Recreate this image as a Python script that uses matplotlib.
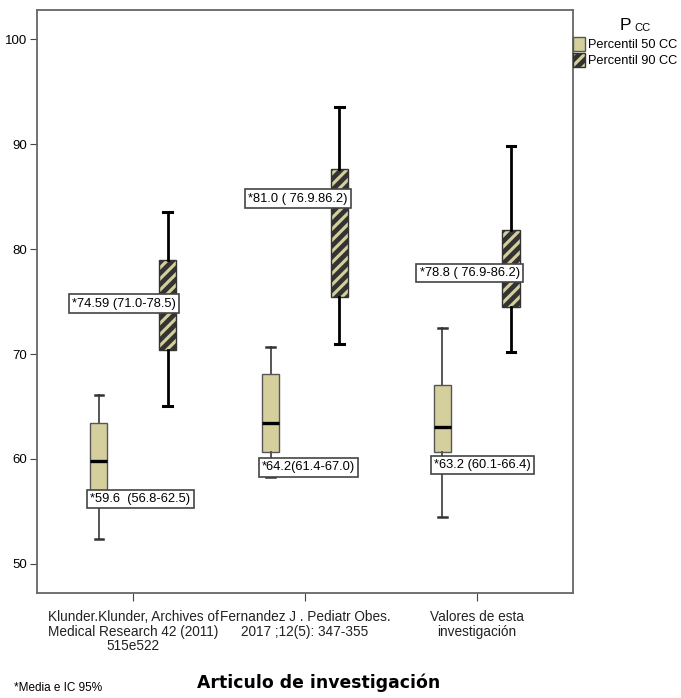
import matplotlib
matplotlib.use("Agg")
import matplotlib.pyplot as plt
from matplotlib.patches import Patch

plt.rcParams['font.family'] = ['Liberation Sans', 'DejaVu Sans']
plt.rcParams['hatch.linewidth'] = 3.4
plt.rcParams['hatch.color'] = 'black'

articulos = ['Klunder.Klunder, Archives of\nMedical Research 42 (2011)\n515e522',
             'Fernandez J . Pediatr Obes.\n2017 ;12(5): 347-355',
             'Valores de esta\ninvestigación']

# percentil 50 CC: [whislo, q1, med, q3, whishi]
p50_min = [52.4, 58.3, 54.5]
p50_q1 = [56.5, 60.7, 60.7]
p50_med = [59.8, 63.4, 63.0]
p50_q3 = [63.4, 68.1, 67.0]
p50_max = [66.1, 70.7, 72.5]

# percentil 90 CC
p90_min = [65.0, 71.0, 70.2]
p90_q1 = [70.4, 75.4, 74.5]
p90_med = [74.6, 81.5, 78.8]
p90_q3 = [79.0, 87.6, 81.8]
p90_max = [83.5, 93.5, 89.8]

# etiquetas media e IC 95%
p50_txt = ['*59.6  (56.8-62.5)', '*64.2(61.4-67.0)', '*63.2 (60.1-66.4)']
p50_txt_y = [56.2, 59.2, 59.4]
p90_txt = ['*74.59 (71.0-78.5)', '*81.0 ( 76.9.86.2)', '*78.8 ( 76.9-86.2)']
p90_txt_y = [74.8, 84.8, 77.7]

color_p50 = '#d4cf9c'
offset = 0.2
ancho = 0.1


def stats(mn, q1, med, q3, mx):
    out = []
    for i in range(len(mn)):
        out.append({'whislo': mn[i], 'q1': q1[i], 'med': med[i],
                    'q3': q3[i], 'whishi': mx[i], 'fliers': []})
    return out


fig = plt.figure(figsize=(6.81, 6.98), dpi=100)
ax = fig.add_axes([0.0543, 0.150, 0.787, 0.836])

pos = list(range(len(articulos)))
pos50 = [p - offset for p in pos]
pos90 = [p + offset for p in pos]

ax.bxp(stats(p50_min, p50_q1, p50_med, p50_q3, p50_max), positions=pos50,
       widths=ancho, patch_artist=True, showfliers=False,
       boxprops=dict(facecolor=color_p50, edgecolor='#555555', linewidth=1),
       medianprops=dict(color='black', linewidth=2.4),
       whiskerprops=dict(color='#555555', linewidth=1.4),
       capprops=dict(color='#333333', linewidth=1.8), capwidths=0.05)

b90 = ax.bxp(stats(p90_min, p90_q1, p90_med, p90_q3, p90_max), positions=pos90,
             widths=ancho, patch_artist=True, showfliers=False,
             boxprops=dict(facecolor=color_p50, edgecolor='#333333', linewidth=1),
             medianprops=dict(color='black', linewidth=0),
             whiskerprops=dict(color='black', linewidth=2.0),
             capprops=dict(color='black', linewidth=2.2), capwidths=0.05)
for b in b90['boxes']:
    b.set_hatch('///')

caja = dict(boxstyle='square,pad=0.25', facecolor='white', edgecolor='#444444', linewidth=1.2)
for i in pos:
    ax.text(pos50[i] - ancho / 2, p50_txt_y[i], p50_txt[i], fontsize=9.3,
            ha='left', va='center', bbox=caja, zorder=5)
    ax.text(pos90[i] + ancho / 2, p90_txt_y[i], p90_txt[i], fontsize=9.3,
            ha='right', va='center', bbox=caja, zorder=5)

ax.set_xlim(-0.56, 2.56)
ax.set_ylim(47.2, 102.8)
ax.set_yticks([50, 60, 70, 80, 90, 100])
ax.set_xticks(pos)
ax.set_xticklabels(articulos, fontsize=9.8, color='#222222', linespacing=1.05)
ax.tick_params(axis='y', labelsize=9.5, length=5, color='#444444', pad=2)
ax.tick_params(axis='x', length=6, color='#444444', pad=6)
for s in ax.spines.values():
    s.set_color('#666666')
    s.set_linewidth(1.3)

fig.text(0.468, 0.022, 'Articulo de investigación', fontsize=12.4, fontweight='bold',
         family='DejaVu Sans', ha='center', va='center')
fig.text(0.02, 0.014, '*Media e IC 95%', fontsize=8.5, ha='left', va='center')

fig.text(0.918, 0.963, 'P', fontsize=12.5, ha='center', va='center')
fig.text(0.932, 0.960, 'CC', fontsize=8, ha='left', va='center')
handles = [Patch(facecolor=color_p50, edgecolor='#555555', label='Percentil 50 CC'),
           Patch(facecolor=color_p50, edgecolor='#333333', hatch='///', label='Percentil 90 CC')]
fig.legend(handles=handles, loc='upper left', bbox_to_anchor=(0.842, 0.947),
           frameon=False, fontsize=9.2, handlelength=0.9, handleheight=1.3,
           handletextpad=0.25, labelspacing=0.15, borderaxespad=0, borderpad=0)

plt.savefig('out.png', dpi=100)
